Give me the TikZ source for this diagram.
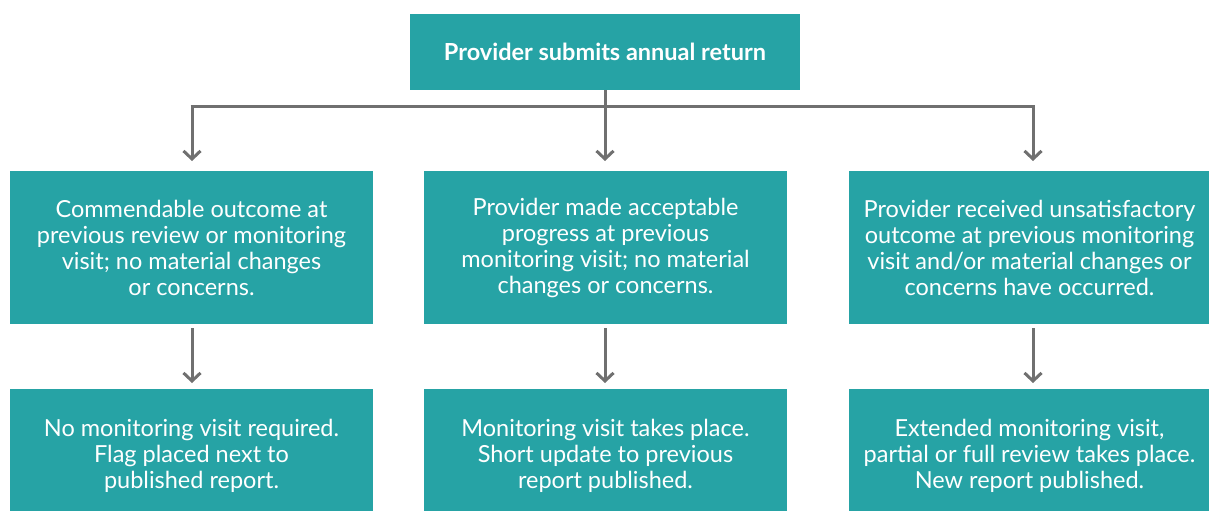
\documentclass[tikz,border=0pt]{standalone}
\usepackage{fontspec}
\setmainfont{Lato}
\usetikzlibrary{arrows.meta}
\definecolor{teal1}{HTML}{26A3A5}
\definecolor{arrowgray}{HTML}{707070}
\tikzset{
  box/.style={fill=teal1, text=white, inner sep=0pt, align=center, font=\fontsize{23.5}{26}\selectfont},
  conn/.style={draw=arrowgray, line width=3pt, -{Straight Barb[length=8pt,width=17pt,line width=3pt]}},
  plain/.style={draw=arrowgray, line width=3pt}
}
\begin{document}
\begin{tikzpicture}[x=1pt,y=-1pt]
\useasboundingbox (0,0) rectangle (1209,511);
\node[box, minimum width=390pt, minimum height=76pt, font=\bfseries\fontsize{23.5}{26}\selectfont] (top) at (605,52) {Provider submits annual return};
\node[box, minimum width=363pt, minimum height=153pt] (m1) at (191.5,247.5) {Commendable outcome at\\previous review or monitoring\\visit; no material changes\\or concerns.};
\node[box, minimum width=363pt, minimum height=153pt] (m2) at (605.5,247.5) {Provider made acceptable\\progress at previous\\monitoring visit; no material\\changes or concerns.};
\node[box, minimum width=361pt, minimum height=153pt] (m3) at (1029.5,247.5) {Provider received unsatisfactory\\outcome at previous monitoring\\visit and/or material changes or\\concerns have occurred.};
\node[box, minimum width=363pt, minimum height=122pt] (b1) at (191.5,450) {};
\node[box, minimum width=363pt, minimum height=122pt] (b2) at (605.5,450) {};
\node[box, minimum width=361pt, minimum height=122pt] (b3) at (1029.5,450) {};
\node[box, fill=none] (t1) at ([yshift=-6pt]b1.center) {No monitoring visit required.\\Flag placed next to\\published report.};
\node[box, fill=none] (t2) at ([yshift=-6pt]b2.center) {Monitoring visit takes place.\\Short update to previous\\report published.};
\node[box, fill=none] (t3) at ([yshift=-6pt]b3.center) {Extended monitoring visit,\\partial or full review takes place.\\New report published.};
\coordinate (j) at (605,106);
\coordinate (jl) at (192,106);
\coordinate (jr) at (1033,106);
\draw[plain] (top.south) -- (j);
\draw[conn] (jl) -- (192,161);
\draw[conn] (j) -- (605,161);
\draw[conn] (jr) -- (1033,161);
\draw[plain] ([xshift=-1.5pt]jl) -- ([xshift=1.5pt]jr);
\draw[conn] (192,328) -- (192,383);
\draw[conn] (605,328) -- (605,383);
\draw[conn] (1033,328) -- (1033,383);
\end{tikzpicture}
\end{document}
